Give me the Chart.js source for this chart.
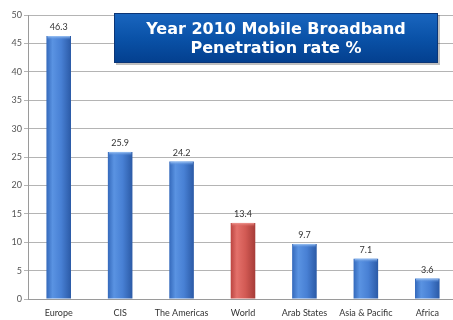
<!DOCTYPE html>
<html>
<head>
<meta charset="utf-8">
<script src="https://cdn.jsdelivr.net/npm/chart.js@4/dist/chart.umd.min.js"></script>
<style>
  html, body { margin: 0; padding: 0; background: #fff; overflow: hidden; }
  #wrap { width: 458px; height: 320px; position: relative; }
</style>
</head>
<body>
<div id="wrap"><canvas id="c" width="458" height="320"></canvas></div>
<script>
// Mobile broadband penetration by region, 2010 (%)
const regions = ['Europe', 'CIS', 'The Americas', 'World', 'Arab States', 'Asia & Pacific', 'Africa'];
const penetration = [46.3, 25.9, 24.2, 13.4, 9.7, 7.1, 3.6];
const yTicks = [0, 5, 10, 15, 20, 25, 30, 35, 40, 45, 50];
const titleLines = ['Year 2010 Mobile Broadband', 'Penetration rate %'];

const BAR_FRACTION = 0.4;

// colour stops for the cylinder shading: [edge, light, mid, dark edge]
const blueShade = ['#3469bb', '#5a93e2', '#4880d4', '#2b5aa6'];
const redShade  = ['#bb4440', '#e4716b', '#d25a54', '#a63c38'];

function barFill(ctx) {
  const chart = ctx.chart;
  const shade = regions[ctx.dataIndex] === 'World' ? redShade : blueShade;
  const xs = chart.scales.x;
  if (!chart.chartArea || !xs) return shade[2];
  const cx = xs.getPixelForValue(ctx.dataIndex);
  const w = xs.width / regions.length * BAR_FRACTION;
  const g = chart.ctx.createLinearGradient(cx - w / 2, 0, cx + w / 2, 0);
  g.addColorStop(0, shade[0]);
  g.addColorStop(0.25, shade[1]);
  g.addColorStop(0.6, shade[2]);
  g.addColorStop(1, shade[3]);
  return g;
}

// light bevel along the top of each bar plus the value label above it
const barDecor = {
  id: 'barDecor',
  afterDatasetsDraw(chart) {
    const ctx = chart.ctx;
    const meta = chart.getDatasetMeta(0);
    ctx.save();
    meta.data.forEach((bar, i) => {
      const p = bar.getProps(['x', 'y', 'width'], true);
      const left = p.x - p.width / 2;
      const isWorld = regions[i] === 'World';
      const g = ctx.createLinearGradient(0, p.y, 0, p.y + 4);
      g.addColorStop(0, isWorld ? '#f09a94' : '#a2c8f6');
      g.addColorStop(1, isWorld ? 'rgba(210,90,84,0)' : 'rgba(72,128,212,0)');
      ctx.fillStyle = g;
      ctx.fillRect(left + 1, p.y, p.width - 2, 4);
      ctx.fillStyle = '#333';
      ctx.font = '9px Lato, "Liberation Sans", sans-serif';
      ctx.textAlign = 'center';
      ctx.textBaseline = 'bottom';
      ctx.fillText(penetration[i].toFixed(1), p.x, p.y - 4);
    });
    ctx.restore();
  }
};

// boxed headline in the upper right of the plot
const titleBox = {
  id: 'titleBox',
  afterDraw(chart) {
    const ctx = chart.ctx;
    const x0 = 114, y0 = 13, w = 324, h = 50;
    ctx.save();
    ctx.fillStyle = 'rgba(0,0,0,0.25)';
    ctx.fillRect(x0 + 2, y0 + 2, w, h);
    const g = ctx.createLinearGradient(0, y0, 0, y0 + h);
    g.addColorStop(0, '#1a66bf');
    g.addColorStop(0.5, '#0a52a8');
    g.addColorStop(1, '#033f8e');
    ctx.fillStyle = g;
    ctx.fillRect(x0, y0, w, h);
    ctx.strokeStyle = '#0b3576';
    ctx.lineWidth = 1;
    ctx.strokeRect(x0 + 0.5, y0 + 0.5, w - 1, h - 1);
    ctx.fillStyle = '#ffffff';
    ctx.font = 'bold 16px "DejaVu Sans", Verdana, sans-serif';
    ctx.textAlign = 'center';
    ctx.textBaseline = 'middle';
    ctx.fillText(titleLines[0], x0 + w / 2, y0 + 17);
    ctx.fillText(titleLines[1], x0 + w / 2, y0 + 36);
    ctx.restore();
  }
};

new Chart(document.getElementById('c'), {
  type: 'bar',
  data: {
    labels: regions,
    datasets: [{
      data: penetration,
      backgroundColor: barFill,
      borderWidth: 0,
      barPercentage: BAR_FRACTION,
      categoryPercentage: 1
    }]
  },
  options: {
    responsive: false,
    animation: false,
    events: [],
    layout: { padding: { top: 15, left: 0, right: 0, bottom: 0 } },
    plugins: { legend: { display: false }, tooltip: { enabled: false } },
    scales: {
      x: {
        grid: { display: false, drawTicks: false },
        border: { color: '#9a9a9a' },
        ticks: {
          color: '#333',
          font: { family: 'Lato, "Liberation Sans", sans-serif', size: 9 },
          padding: 9,
          maxRotation: 0,
          autoSkip: false
        },
        afterFit(s) { s.height = 21; }
      },
      y: {
        min: 0,
        max: 50,
        afterBuildTicks(s) { s.ticks = yTicks.map(v => ({ value: v })); },
        grid: { color: '#b4b4b4', tickLength: 4 },
        border: { color: '#9a9a9a' },
        ticks: {
          color: '#555',
          font: { family: 'Lato, "Liberation Sans", sans-serif', size: 9 },
          padding: 2
        },
        afterFit(s) { s.width = 28; }
      }
    }
  },
  plugins: [barDecor, titleBox]
});
</script>
</body>
</html>
